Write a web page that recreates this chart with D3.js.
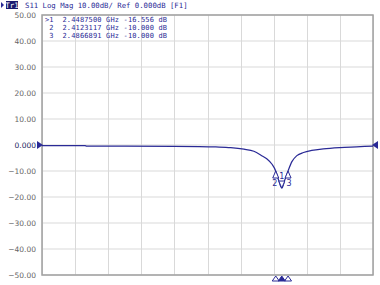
<!DOCTYPE html>
<html>
<head>
<meta charset="utf-8">
<script src="https://cdn.jsdelivr.net/npm/d3@7"></script>
<style>
  html, body { margin: 0; padding: 0; background: #fff; }
  svg { display: block; }
</style>
</head>
<body>
<div id="chart"></div>
<script>
// Trace: S11 magnitude (dB) vs frequency (GHz)
const freqGHz = [1.00, 1.26, 1.27, 1.50, 1.80, 1.95, 2.05, 2.14, 2.22, 2.28, 2.33, 2.36, 2.39,
  2.4123117, 2.43, 2.44875, 2.468, 2.4866891, 2.51, 2.54, 2.58, 2.63, 2.70, 2.80, 2.90, 3.00];
const s11dB = [-0.25, -0.25, -0.45, -0.45, -0.5, -0.6, -0.75, -1.0, -1.6, -2.4, -4.2, -5.4, -7.4,
  -10.0, -13.6, -16.556, -13.3, -10.0, -6.4, -4.1, -2.9, -2.1, -1.5, -1.0, -0.7, -0.4];

// Markers
const markerIds = ['1', '2', '3'];
const markerFreq = [2.4487500, 2.4123117, 2.4866891];
const markerVal = [-16.556, -10.000, -10.000];

const yTicks = [50, 40, 30, 20, 10, 0, -10, -20, -30, -40, -50];
const xTicks = d3.range(1, 3.0001, 0.2);

const width = 380, height = 285;
const plot = { left: 42, right: 373, top: 15, bottom: 275 };
const blue = '#2a2a96';

const x = d3.scaleLinear().domain([1, 3]).range([plot.left, plot.right]);
const y = d3.scaleLinear().domain([-50, 50]).range([plot.bottom, plot.top]);

const svg = d3.select('#chart').append('svg')
  .attr('width', width).attr('height', height);

// Grid
svg.append('g').selectAll('line.h').data(yTicks).join('line')
  .attr('x1', plot.left).attr('x2', plot.right)
  .attr('y1', d => y(d)).attr('y2', d => y(d))
  .attr('stroke', '#d9d9d9').attr('stroke-width', 1);
svg.append('g').selectAll('line.v').data(xTicks).join('line')
  .attr('x1', d => Math.round(x(d)) + 0.5).attr('x2', d => Math.round(x(d)) + 0.5)
  .attr('y1', plot.top).attr('y2', plot.bottom)
  .attr('stroke', '#d9d9d9').attr('stroke-width', 1);

// Frame
svg.append('rect')
  .attr('x', plot.left).attr('y', plot.top)
  .attr('width', plot.right - plot.left).attr('height', plot.bottom - plot.top)
  .attr('fill', 'none').attr('stroke', '#a0a0a0').attr('stroke-width', 1.5);

// Y labels
const fmt = d => d === 0 ? '0.000' : d3.format('.2f')(d);
svg.append('g').selectAll('text').data(yTicks).join('text')
  .attr('x', 36).attr('y', d => y(d))
  .attr('text-anchor', 'end').attr('dominant-baseline', 'central')
  .attr('font-family', 'DejaVu Sans').attr('font-size', 7.5)
  .attr('fill', d => d === 0 ? '#1c1c60' : '#666')
  .text(fmt);

// Trace
const line = d3.line()
  .x((d, i) => x(freqGHz[i]))
  .y(d => y(d))
  .curve(d3.curveMonotoneX);
svg.append('path')
  .attr('d', line(s11dB))
  .attr('fill', 'none').attr('stroke', blue).attr('stroke-width', 1.2);

// Reference level triangles
svg.append('path')
  .attr('d', `M${plot.left - 5},${y(0) - 4}L${plot.left + 1},${y(0)}L${plot.left - 5},${y(0) + 4}Z`)
  .attr('fill', blue);
svg.append('path')
  .attr('d', `M${plot.right + 5},${y(0) - 4}L${plot.right - 1},${y(0)}L${plot.right + 5},${y(0) + 4}Z`)
  .attr('fill', blue);

// Markers on trace
markerIds.forEach((id, i) => {
  const mx = x(markerFreq[i]), my = y(markerVal[i]);
  if (i === 0) {
    svg.append('path')
      .attr('d', `M${mx - 3},${my - 7}L${mx + 3},${my - 7}L${mx},${my}Z`)
      .attr('fill', '#fff').attr('stroke', blue).attr('stroke-width', 1);
    svg.append('text').attr('x', mx).attr('y', my - 9)
      .attr('text-anchor', 'middle').attr('font-family', 'DejaVu Sans')
      .attr('font-size', 8).attr('fill', blue).text(id);
  } else {
    svg.append('path')
      .attr('d', `M${mx - 3},${my + 7}L${mx + 3},${my + 7}L${mx},${my}Z`)
      .attr('fill', '#fff').attr('stroke', blue).attr('stroke-width', 1);
    svg.append('text').attr('x', mx + (i === 1 ? -1 : 1)).attr('y', my + 15)
      .attr('text-anchor', 'middle').attr('font-family', 'DejaVu Sans')
      .attr('font-size', 8).attr('fill', blue).text(id);
  }
});

// Marker position triangles under the frame
markerIds.map((id, i) => i).reverse().forEach(i => {
  const mx = x(markerFreq[i]);
  svg.append('path')
    .attr('d', `M${mx - 3.5},${plot.bottom + 6}L${mx + 3.5},${plot.bottom + 6}L${mx},${plot.bottom + 1}Z`)
    .attr('fill', i === 0 ? blue : '#fff').attr('stroke', blue).attr('stroke-width', 1);
});

// Header
svg.append('path').attr('d', 'M1,2L4,5L1,8Z').attr('fill', blue);
svg.append('rect').attr('x', 6).attr('y', 1).attr('width', 12).attr('height', 8).attr('fill', '#1a1a70');
svg.append('text').attr('x', 12).attr('y', 7.8).attr('text-anchor', 'middle')
  .attr('font-family', 'DejaVu Sans Mono').attr('font-size', 7.5).attr('fill', '#fff').text('Tr1');
svg.append('text').attr('x', 25).attr('y', 7.8)
  .attr('font-family', 'DejaVu Sans Mono').attr('font-size', 7.3).attr('fill', blue)
  .text('S11 Log Mag 10.00dB/ Ref 0.000dB [F1]');

// Marker readout table
const rows = markerIds.map((id, i) =>
  `${i === 0 ? '>' : ' '}${id}  ${markerFreq[i].toFixed(7)} GHz ${markerVal[i].toFixed(3)} dB`);
svg.append('g').selectAll('text').data(rows).join('text')
  .attr('x', 45).attr('y', (d, i) => 22 + i * 8)
  .attr('font-family', 'DejaVu Sans Mono').attr('font-size', 7)
  .attr('textLength', 122).attr('lengthAdjust', 'spacing')
  .attr('fill', blue).attr('xml:space', 'preserve')
  .style('white-space', 'pre')
  .text(d => d);
</script>
</body>
</html>
